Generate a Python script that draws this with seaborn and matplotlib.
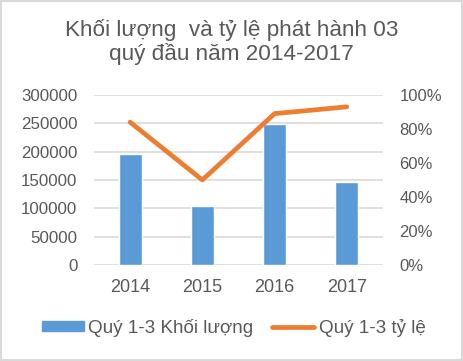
import numpy as np
import seaborn as sns
import matplotlib.pyplot as plt
import matplotlib.patches as mpatches
from matplotlib.lines import Line2D
from matplotlib.ticker import PercentFormatter

years = ["2014", "2015", "2016", "2017"]
volume = [196000, 104000, 249000, 147000]
rate = [84, 50, 89, 93]

bar_label = "Quý 1-3 Khối lượng"
line_label = "Quý 1-3 tỷ lệ"
title = "Khối lượng  và tỷ lệ phát hành 03\nquý đầu năm 2014-2017"

sns.set_style("white")
plt.rcParams["font.family"] = ["Liberation Sans", "DejaVu Sans"]

blue = "#5B9BD5"
orange = "#ED7D31"
gray_text = "#595959"
grid_col = "#D9D9D9"

fig = plt.figure(figsize=(4.63, 3.61), dpi=100)
ax1 = fig.add_axes([0.203, 0.266, 0.624, 0.471])

# bars on the left axis
sns.barplot(x=years, y=volume, color=blue, width=0.32, saturation=1, ax=ax1)
ax1.set_ylim(0, 300000)
ax1.set_yticks(np.arange(0, 300001, 50000))
ax1.set_xlim(-0.5, 3.5)
ax1.yaxis.grid(True, color=grid_col, linewidth=1.2)
ax1.set_axisbelow(True)
for s in ax1.spines.values():
    s.set_visible(False)
ax1.tick_params(axis="both", length=0, labelcolor=gray_text)
ax1.tick_params(axis="y", pad=12, labelsize=12.2)
ax1.tick_params(axis="x", pad=10, labelsize=13)

# line on the right axis
ax2 = ax1.twinx()
sns.pointplot(x=years, y=rate, color=orange, markers="", linestyles="-",
              linewidth=3.4, ax=ax2)
ax2.set_ylim(0, 100)
ax2.set_yticks(np.arange(0, 101, 20))
ax2.yaxis.set_major_formatter(PercentFormatter(decimals=0))
ax2.set_xlim(-0.5, 3.5)
for s in ax2.spines.values():
    s.set_visible(False)
ax2.tick_params(axis="y", length=0, labelsize=12, labelcolor=gray_text, pad=12)
ax2.set_ylabel("")
ax1.set_ylabel("")

fig.text(0.5, 0.883, title, ha="center", va="center", fontsize=16.2,
         color=gray_text, linespacing=1.1)

handles = [mpatches.Patch(color=blue, label=bar_label),
           Line2D([0], [0], color=orange, linewidth=3.4, label=line_label)]
fig.legend(handles=handles, loc="center", bbox_to_anchor=(0.505, 0.092),
           ncol=2, frameon=False, fontsize=13.6, handlelength=2.2,
           handleheight=0.5, columnspacing=1.0, handletextpad=0.25,
           labelcolor=gray_text)

fig.patches.append(mpatches.Rectangle((0.002, 0.003), 0.996, 0.994,
                                      transform=fig.transFigure, fill=False,
                                      edgecolor=grid_col, linewidth=1.5))

fig.savefig("out.png", dpi=100)
